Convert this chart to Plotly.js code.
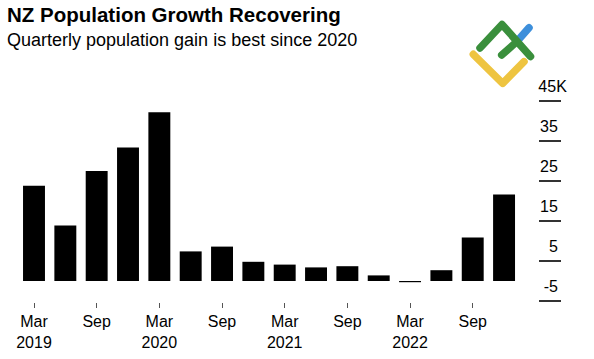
<!DOCTYPE html>
<html><head><meta charset="utf-8">
<script src="https://cdn.plot.ly/plotly-3.0.1.min.js"></script>
<style>html,body{margin:0;padding:0;background:#fff;overflow:hidden}</style>
</head><body><div id="chart" style="width:594px;height:359px"></div>
<script>
const quarters = ["Mar 2019","Jun 2019","Sep 2019","Dec 2019","Mar 2020","Jun 2020","Sep 2020","Dec 2020","Mar 2021","Jun 2021","Sep 2021","Dec 2021","Mar 2022","Jun 2022","Sep 2022","Dec 2022"];
const popGain = [23800, 13900, 27500, 33400, 42200, 7400, 8600, 4800, 4100, 3400, 3700, 1400, -300, 2700, 10900, 21600];
const xTickVals = ["Mar 2019","Sep 2019","Mar 2020","Sep 2020","Mar 2021","Sep 2021","Mar 2022","Sep 2022"];
const xTickText = ["Mar<br>2019","Sep","Mar<br>2020","Sep","Mar<br>2021","Sep","Mar<br>2022","Sep"];
const yTickVals = [-5000, 5000, 15000, 25000, 35000, 45000];
const yTickText = ["-5\u2007", "5\u2007", "15\u2007", "25\u2007", "35\u2007", "45K"];
const titleText = "NZ Population Growth Recovering";
const subtitleText = "Quarterly population gain is best since 2020";

const W = 594, H = 359;
const FONT = "Liberation Sans, Arial, Helvetica, sans-serif";

const logoSvg = '<svg xmlns="http://www.w3.org/2000/svg" width="70" height="72" viewBox="0 0 70 72">' +
  '<g fill="none" stroke-linecap="round" stroke-linejoin="round" stroke-width="7.5">' +
  '<polyline points="5.3,36.3 34.7,65.3 56,43.7" stroke="#EEC440"/>' +
  '<polyline points="48.7,23.7 61,9.7" stroke="#3D8FDB"/>' +
  '<polyline points="12,30 34,6.5 62.5,38.5" stroke="#3A8F3C"/>' +
  '<polyline points="33.7,37 48.7,23.7" stroke="#3A8F3C"/>' +
  '</g></svg>';
const logoSrc = 'data:image/svg+xml;base64,' + btoa(logoSvg);

const trace = {
  type: 'bar',
  x: quarters,
  y: popGain,
  marker: {color: '#000000', line: {width: 0}},
  hoverinfo: 'skip'
};

const layout = {
  width: W, height: H,
  margin: {l: 0, r: 0, t: 0, b: 0, pad: 0},
  paper_bgcolor: '#ffffff',
  plot_bgcolor: 'rgba(0,0,0,0)',
  showlegend: false,
  bargap: 0.3,
  font: {family: FONT, color: '#000'},
  xaxis: {
    type: 'category',
    range: [-1.085, 17.87],
    domain: [0, 1],
    anchor: 'free',
    position: (H - 302) / H,
    showline: false, showgrid: false, zeroline: false,
    ticks: 'outside', ticklen: 5, tickwidth: 1, tickcolor: '#555',
    tickmode: 'array', tickvals: xTickVals, ticktext: xTickText,
    tickfont: {family: FONT, size: 16, color: '#000'},
    automargin: false, fixedrange: true
  },
  yaxis: {
    range: [-19500, 70250],
    domain: [0, 1],
    anchor: 'free',
    position: 561 / W,
    side: 'left',
    showline: false, showgrid: false, zeroline: false,
    ticks: 'outside', ticklen: 22, tickwidth: 1.5, tickcolor: '#333',
    tickmode: 'array', tickvals: yTickVals, ticktext: yTickText,
    tickfont: {family: FONT, size: 16, color: '#000'},
    ticklabelshift: -15,
    ticklabelstandoff: -31,
    automargin: false, fixedrange: true
  },
  annotations: [
    {text: '<b>' + titleText + '</b>', xref: 'paper', yref: 'paper', x: 5 / W, y: (H - 1) / H,
     xanchor: 'left', yanchor: 'top', showarrow: false, font: {family: FONT, size: 20.5, color: '#000'}},
    {text: subtitleText, xref: 'paper', yref: 'paper', x: 5 / W, y: (H - 28) / H,
     xanchor: 'left', yanchor: 'top', showarrow: false, font: {family: FONT, size: 18, color: '#000'}}
  ],
  images: [
    {source: logoSrc, xref: 'paper', yref: 'paper', x: 468 / W, y: (H - 18) / H,
     sizex: 70 / W, sizey: 72 / H, xanchor: 'left', yanchor: 'top', sizing: 'stretch', layer: 'above'}
  ]
};

Plotly.newPlot('chart', [trace], layout, {displayModeBar: false, staticPlot: true});
</script>
</body></html>
